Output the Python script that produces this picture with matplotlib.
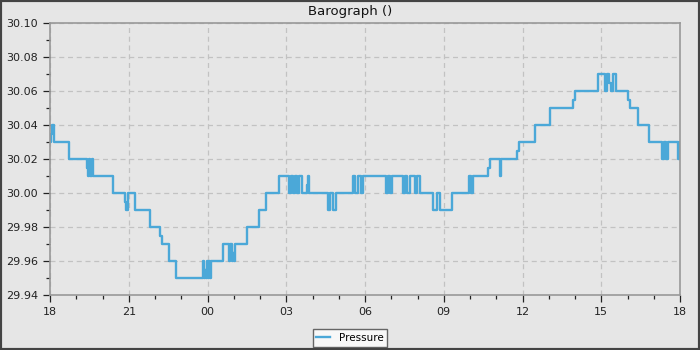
import datetime as dt
import matplotlib
matplotlib.use("Agg")
import matplotlib.pyplot as plt
import matplotlib.dates as mdates
from matplotlib.patches import Rectangle

# readings (clock time, pressure inHg), starting 18:00 and running 24 hours
times = [
    "18:00", "18:03", "18:05", "18:08", "18:43", "19:25", "19:27", "19:29", "19:32",
    "19:35", "19:38", "19:41", "20:24", "20:51", "20:54", "20:58", "21:14", "21:49",
    "22:11", "22:15", "22:32", "22:48", "23:50", "23:52", "23:55", "23:57", "23:59",
    "00:01", "00:03", "00:05", "00:08", "00:35", "00:49", "00:52", "00:55", "00:58",
    "01:01", "01:03", "01:30", "01:58", "02:14", "02:43", "03:06", "03:11", "03:15",
    "03:20", "03:25", "03:29", "03:36", "03:47", "03:50", "03:52", "04:35", "04:40",
    "04:47", "04:54", "04:58", "05:33", "05:37", "05:44", "05:51", "05:55", "06:02",
    "06:48", "06:53", "06:57", "07:02", "07:06", "07:27", "07:31", "07:36", "07:43",
    "07:54", "07:59", "08:06", "08:35", "08:45", "08:51", "09:19", "09:58", "10:02",
    "10:07", "10:11", "10:41", "10:46", "10:50", "11:09", "11:11", "11:47", "11:52",
    "11:54", "12:29", "13:03", "13:55", "14:00", "14:53", "15:09", "15:13", "15:18",
    "15:22", "15:27", "15:34", "16:01", "16:06", "16:24", "16:49", "17:14", "17:19",
    "17:23", "17:28", "17:33", "17:37", "17:55", "18:00",
]
pressure = [
    30.03, 30.035, 30.04, 30.03, 30.02, 30.015, 30.01, 30.02, 30.01,
    30.02, 30.01, 30.01, 30.00, 29.995, 29.99, 30.00, 29.99, 29.98,
    29.975, 29.97, 29.96, 29.95, 29.96, 29.95, 29.955, 29.95, 29.96,
    29.95, 29.96, 29.95, 29.96, 29.97, 29.96, 29.97, 29.96, 29.965,
    29.96, 29.97, 29.98, 29.99, 30.00, 30.01, 30.00, 30.01, 30.00,
    30.01, 30.00, 30.01, 30.00, 30.005, 30.01, 30.00, 29.99, 30.00,
    29.99, 30.00, 30.00, 30.01, 30.00, 30.01, 30.00, 30.01, 30.01,
    30.00, 30.01, 30.00, 30.01, 30.01, 30.00, 30.01, 30.00, 30.01,
    30.00, 30.01, 30.00, 29.99, 30.00, 29.99, 30.00, 30.01, 30.00,
    30.01, 30.01, 30.015, 30.02, 30.02, 30.01, 30.02, 30.025, 30.03,
    30.03, 30.04, 30.05, 30.055, 30.06, 30.07, 30.06, 30.07, 30.065,
    30.06, 30.07, 30.06, 30.055, 30.05, 30.04, 30.03, 30.03, 30.02,
    30.03, 30.02, 30.03, 30.03, 30.02, 30.03,
]

start = dt.datetime(2024, 1, 1, 18, 0)
x = []
for i, t in enumerate(times):
    h, m = map(int, t.split(":"))
    d = start.replace(hour=h, minute=m)
    if h < 18 or (i > 0 and d <= start):
        d += dt.timedelta(days=1)
    x.append(d)

bg = "#e6e6e6"
fig = plt.figure(figsize=(7, 3.5), dpi=100, facecolor=bg)
ax = fig.add_axes([50 / 700, 1 - 295 / 350, 630 / 700, 272 / 350])
ax.set_facecolor(bg)

ax.plot(x, pressure, drawstyle="steps-post", color="#4ba8d8", lw=1.7, label="Pressure")

ax.set_xlim(start, start + dt.timedelta(days=1))
ax.set_ylim(29.94, 30.10)
ax.xaxis.set_major_locator(mdates.HourLocator(byhour=range(0, 24, 3)))
ax.xaxis.set_minor_locator(mdates.HourLocator())
ax.xaxis.set_major_formatter(mdates.DateFormatter("%H"))
ax.yaxis.set_major_locator(plt.MultipleLocator(0.02))
ax.yaxis.set_minor_locator(plt.MultipleLocator(0.01))
ax.yaxis.set_major_formatter(plt.FormatStrFormatter("%.2f"))

ax.grid(True, which="major", ls=(0, (4, 3)), color="#c2c2c2", lw=0.9)
ax.tick_params(which="major", length=5, width=0.9, labelsize=8, colors="#222222")
ax.tick_params(which="minor", length=3, width=0.9, colors="#222222")
for s in ax.spines.values():
    s.set_color("#999999")
    s.set_linewidth(1.2)

fig.text(0.5, 1 - 11 / 350, "Barograph ()", ha="center", va="center", fontsize=9.5, color="#111111")

leg = ax.legend(loc="center", bbox_to_anchor=(0.5, 12 / 350), bbox_transform=fig.transFigure,
                fontsize=7.5, fancybox=False, framealpha=1, facecolor="#f8f8f8",
                edgecolor="#666666", handlelength=1.3, handletextpad=0.9, borderpad=0.35,
                borderaxespad=0.3)
leg.get_frame().set_linewidth(1.0)

fig.patches.append(Rectangle((0, 0), 1, 1, transform=fig.transFigure, fill=False,
                             edgecolor="#444444", lw=3, zorder=10))

fig.savefig("out.png", dpi=100, facecolor=bg)
